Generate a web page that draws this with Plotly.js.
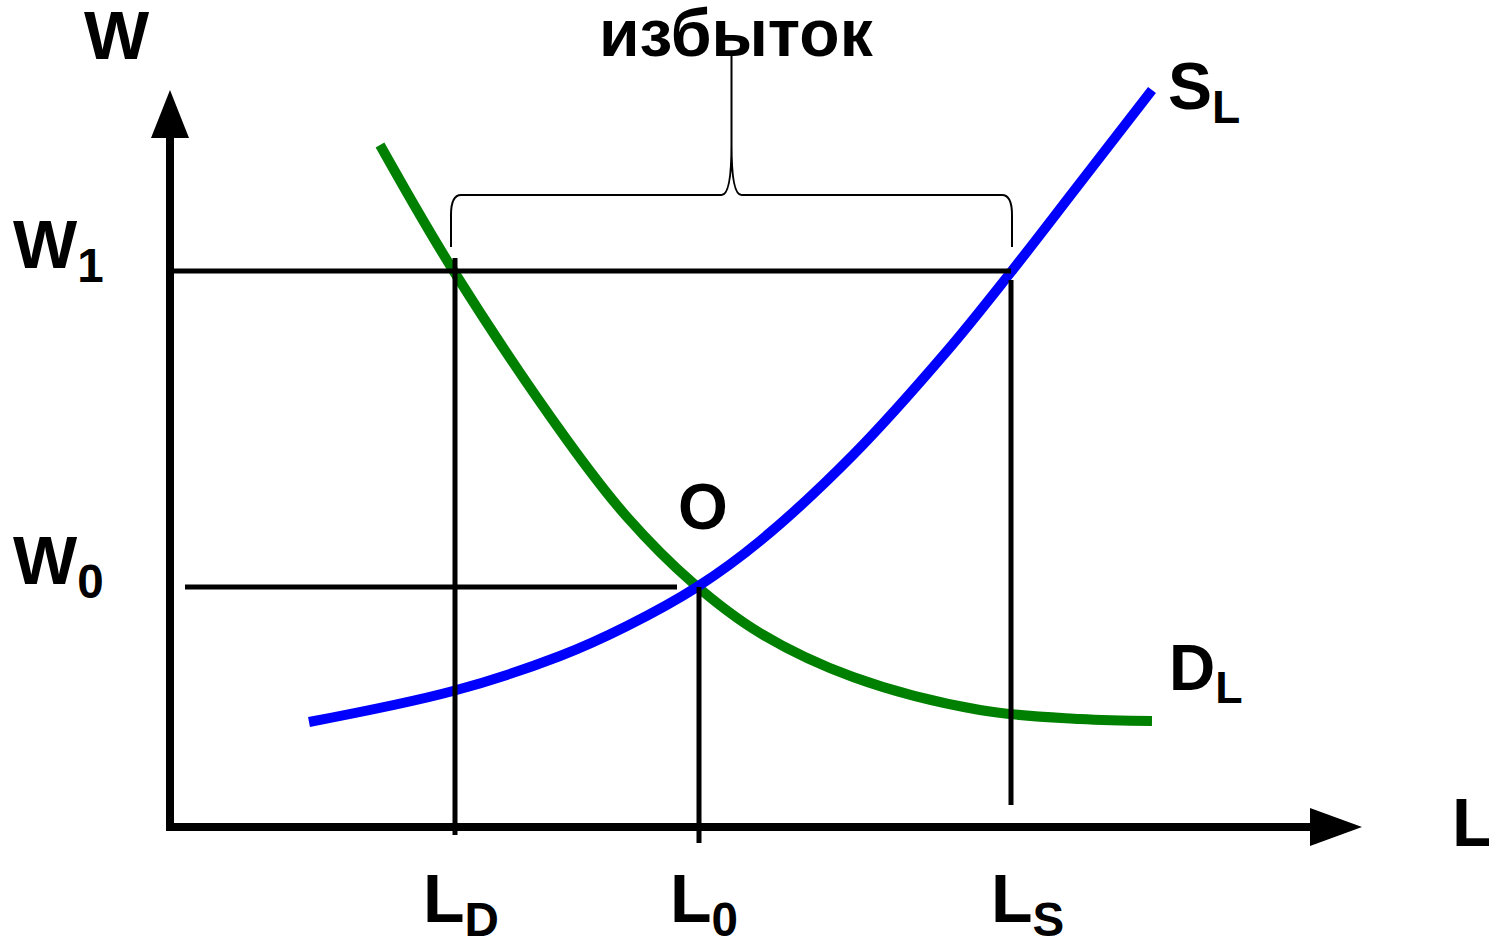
<!DOCTYPE html>
<html>
<head>
<meta charset="utf-8">
<script src="https://cdn.plot.ly/plotly-3.0.1.min.js"></script>
<style>
  html, body { margin: 0; padding: 0; background: #fff; }
  #chart { width: 1489px; height: 945px; }
</style>
</head>
<body>
<div id="chart"></div>
<script>
// supply curve S_L (labour L, wage W)
const supplyL = [139, 283, 390, 457, 527, 590, 683, 777, 841, 910, 982];
const supplyW = [105, 136, 171, 201, 240, 286, 372, 476, 555, 644, 737];

// demand curve D_L
const demandL = [210, 283, 397, 457, 523, 590, 683, 810, 910, 982];
const demandW = [682, 557, 387, 310, 244, 194, 150, 117, 108, 106];

// marked levels on the axes
const levelL = [285, 529, 841];          // L_D, L_0, L_S
const levelLLabels = ['L<sub>D</sub>', 'L<sub>0</sub>', 'L<sub>S</sub>'];
const levelW = [240, 556];               // W_0, W_1
const levelWLabels = ['W<sub>0</sub>', 'W<sub>1</sub>'];

const LD = levelL[0], L0 = levelL[1], LS = levelL[2];
const W0 = levelW[0], W1 = levelW[1];

const FONT = 'Liberation Sans, Arial, sans-serif';

// helper for a black guide line
const guide = (x, y) => ({
    x: x, y: y, mode: 'lines', hoverinfo: 'skip',
    line: { color: '#000', width: 5 }
});

const data = [
    {
        x: demandL, y: demandW, mode: 'lines', name: 'D_L',
        line: { color: '#008000', width: 10, shape: 'spline', smoothing: 1 }
    },
    {
        x: supplyL, y: supplyW, mode: 'lines', name: 'S_L',
        line: { color: '#0000ff', width: 10, shape: 'spline', smoothing: 1 }
    },
    guide([0, LS], [W1, W1]),
    guide([15, L0 - 22], [W0, W0]),
    guide([LD, LD], [-8, W1 + 13]),
    guide([L0, L0], [-16, W0]),
    guide([LS, LS], [22, W1 - 9])
];

// brace over the surplus, from L_D to L_S
const bl = LD - 4, br = LS + 1, bm = (bl + br) / 2;
const bb = W1 + 24, bt = W1 + 76;
const brace = `M ${bl} ${bb} L ${bl} ${bt - 20} Q ${bl} ${bt} ${bl + 10} ${bt} ` +
    `L ${bm - 10} ${bt} Q ${bm} ${bt} ${bm} ${bt + 50} L ${bm} ${bt + 140} ` +
    `M ${bm} ${bt + 50} Q ${bm} ${bt} ${bm + 10} ${bt} L ${br - 10} ${bt} ` +
    `Q ${br} ${bt} ${br} ${bt - 20} L ${br} ${bb}`;

const shapes = [
    // axes
    { type: 'line', x0: 0, x1: 0, y0: -4, y1: 692, line: { color: '#000', width: 8 } },
    { type: 'line', x0: -4, x1: 1142, y0: 0, y1: 0, line: { color: '#000', width: 8 } },
    { type: 'path', path: 'M -19 689 L 19 689 L 0 737 Z', fillcolor: '#000', line: { width: 0 } },
    { type: 'path', path: 'M 1140 19 L 1140 -19 L 1192 0 Z', fillcolor: '#000', line: { width: 0 } },
    { type: 'path', path: brace, line: { color: '#000', width: 2 } }
];

const lab = (text, x, y, size, xanchor) => ({
    text: text, x: x, y: y, xref: 'x', yref: 'y',
    xanchor: xanchor || 'left', yanchor: 'middle', showarrow: false,
    font: { family: FONT, size: size, color: '#000', weight: 'bold' }
});

const annotations = [
    lab('W', -88, 792, 69),
    lab('L', 1280, 5, 68),
    lab('избыток', bm + 5, 794, 66, 'center'),
    lab('O', L0 + 4, 320, 64, 'center'),
    lab('S<sub>L</sub>', 996, 736, 66),
    lab('D<sub>L</sub>', 997, 155, 64)
];
levelW.forEach((w, i) => annotations.push(lab(levelWLabels[i], -159, w + 22, 68)));
const labelShift = [-34, -31, -22];
levelL.forEach((l, i) => annotations.push(lab(levelLLabels[i], l + labelShift[i], -76, 68)));

const layout = {
    width: 1489,
    height: 945,
    margin: { t: 0, r: 0, b: 0, l: 0 },
    paper_bgcolor: '#fff',
    plot_bgcolor: '#fff',
    showlegend: false,
    xaxis: { range: [-170, 1319], visible: false, fixedrange: true },
    yaxis: { range: [-118, 827], visible: false, fixedrange: true },
    shapes: shapes,
    annotations: annotations
};

Plotly.newPlot('chart', data, layout, { displayModeBar: false, staticPlot: true });
</script>
</body>
</html>
